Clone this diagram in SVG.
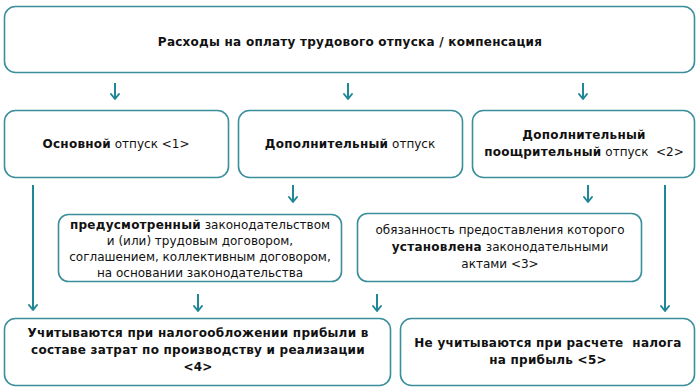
<svg xmlns="http://www.w3.org/2000/svg" width="700" height="392" viewBox="0 0 700 392">
<defs>
<style>
.box{fill:#fff;stroke:#3b8f9c;stroke-width:1.6}
.t{font-family:"DejaVu Sans","Verdana",sans-serif;font-size:12px;fill:#111;text-anchor:middle}
.b{font-weight:bold;letter-spacing:0.25px}
.ln{stroke:#1f8795;stroke-width:2;fill:none}
.hd{stroke:#1f8795;stroke-width:2;fill:none;stroke-linecap:round;stroke-linejoin:round}
</style>
</defs>
<rect width="700" height="392" fill="#fff"/>

<g id="connectors">
<line class="ln" x1="115" y1="83" x2="115" y2="99"/><polyline class="hd" points="111,94 115,99 119,94"/>
<line class="ln" x1="348" y1="83" x2="348" y2="99"/><polyline class="hd" points="344,94 348,99 352,94"/>
<line class="ln" x1="583" y1="83" x2="583" y2="99"/><polyline class="hd" points="579,94 583,99 587,94"/>

<line class="ln" x1="33" y1="185" x2="33" y2="310"/><polyline class="hd" points="29,305 33,310 37,305"/>
<line class="ln" x1="293" y1="185" x2="293" y2="202"/><polyline class="hd" points="289,197 293,202 297,197"/>
<line class="ln" x1="588" y1="185" x2="588" y2="202"/><polyline class="hd" points="584,197 588,202 592,197"/>
<line class="ln" x1="665" y1="185" x2="665" y2="311"/><polyline class="hd" points="661,306 665,311 669,306"/>

<line class="ln" x1="198" y1="294" x2="198" y2="311"/><polyline class="hd" points="194,306 198,311 202,306"/>
<line class="ln" x1="377" y1="294" x2="377" y2="311"/><polyline class="hd" points="373,306 377,311 381,306"/>
</g>

<g id="top">
<rect class="box" x="4.5" y="6.5" width="690" height="66" rx="11"/>
<text class="t b" x="350" y="46">Расходы на оплату трудового отпуска / компенсация</text>
</g>

<g id="main">
<rect class="box" x="4.5" y="110.5" width="224" height="67" rx="11"/>
<text class="t" x="116" y="148"><tspan class="b">Основной</tspan> отпуск &lt;1&gt;</text>
</g>

<g id="additional">
<rect class="box" x="238.5" y="110.5" width="224" height="67" rx="11"/>
<text class="t" x="350" y="148"><tspan class="b">Дополнительный</tspan> отпуск</text>
</g>

<g id="incentive">
<rect class="box" x="472.5" y="110.5" width="222" height="67" rx="11"/>
<text class="t b" x="584" y="139">Дополнительный</text>
<text class="t" x="584" y="156" xml:space="preserve"><tspan class="b">поощрительный</tspan> отпуск  &lt;2&gt;</text>
</g>

<g id="provided">
<rect class="box" x="58.5" y="214.5" width="283" height="67" rx="10"/>
<text class="t" x="200" y="229"><tspan class="b">предусмотренный</tspan> законодательством</text>
<text class="t" x="200" y="245">и (или) трудовым договором,</text>
<text class="t" x="200" y="261">соглашением, коллективным договором,</text>
<text class="t" x="200" y="277">на основании законодательства</text>
</g>

<g id="established">
<rect class="box" x="357.5" y="213.5" width="284" height="68" rx="10"/>
<text class="t" x="500" y="234">обязанность предоставления которого</text>
<text class="t" x="500" y="251"><tspan class="b">установлена</tspan> законодательными</text>
<text class="t" x="500" y="268">актами &lt;3&gt;</text>
</g>

<g id="counted">
<rect class="box" x="4.5" y="318.5" width="386" height="67" rx="11"/>
<text class="t b" x="198" y="337">Учитываются при налогообложении прибыли в</text>
<text class="t b" x="198" y="354">составе затрат по производству и реализации</text>
<text class="t b" x="198" y="371">&lt;4&gt;</text>
</g>

<g id="notcounted">
<rect class="box" x="400.5" y="318.5" width="294" height="67" rx="11"/>
<text class="t b" x="548" y="347" xml:space="preserve">Не учитываются при расчете  налога</text>
<text class="t b" x="548" y="364">на прибыль &lt;5&gt;</text>
</g>
</svg>
